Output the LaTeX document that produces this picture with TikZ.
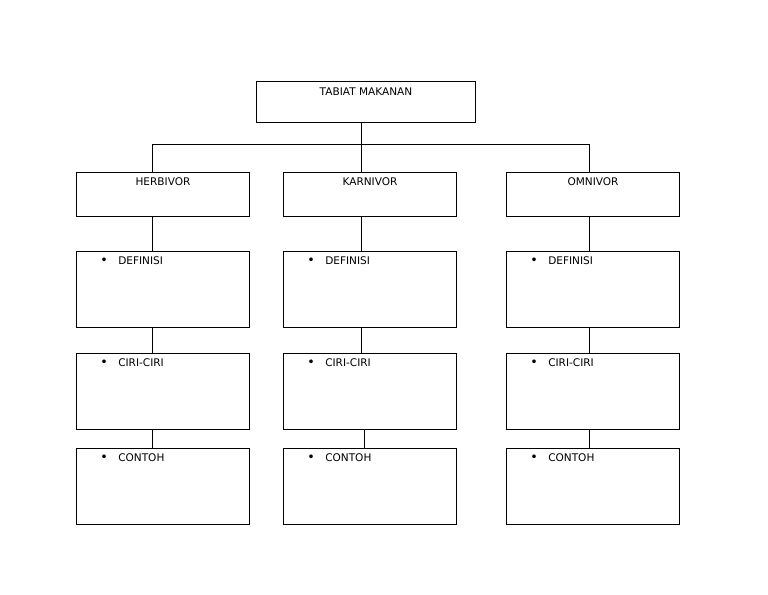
\documentclass[tikz,border=0pt]{standalone}
\usepackage{fontspec}
\setmainfont{DejaVu Sans}
\begin{document}
\begin{tikzpicture}[x=0.75pt,y=-0.75pt,
  every node/.style={font=\fontsize{7.9}{9.5}\selectfont},
  boxbase/.style={draw, line width=0.75pt, anchor=north west, inner sep=0pt},
  topbox/.style={boxbase, minimum width=164.25pt, minimum height=30.75pt},
  headbox/.style={boxbase, minimum width=129.75pt, minimum height=33pt},
  itembox/.style={boxbase, minimum width=129.75pt, minimum height=57pt},
  ttl/.style={anchor=base, inner sep=0pt},
  itm/.style={anchor=base west, inner sep=0pt},
  conn/.style={line width=0.75pt}]
\useasboundingbox (0,0) rectangle (768,594);
% boxes
\node[topbox] (top) at (256,81) {};
\node[headbox] (h) at (76,172) {};
\node[headbox] (k) at (283,172) {};
\node[headbox] (o) at (506,172) {};
\node[itembox] (hd) at (76,251) {};
\node[itembox] (kd) at (283,251) {};
\node[itembox] (od) at (506,251) {};
\node[itembox] (hc) at (76,353) {};
\node[itembox] (kc) at (283,353) {};
\node[itembox] (oc) at (506,353) {};
\node[itembox] (hx) at (76,448) {};
\node[itembox] (kx) at (283,448) {};
\node[itembox] (ox) at (506,448) {};
% titles
\node[ttl] (ttop) at ([yshift=-10.5pt]top.north) {TABIAT MAKANAN};
\node[ttl] (th) at ([yshift=-9.75pt]h.north) {HERBIVOR};
\node[ttl] (tk) at ([yshift=-9.75pt]k.north) {KARNIVOR};
\node[ttl] (to) at ([yshift=-9.75pt]o.north) {OMNIVOR};
% items
\foreach \b/\t in {hd/DEFINISI,kd/DEFINISI,od/DEFINISI,hc/CIRI-CIRI,kc/CIRI-CIRI,oc/CIRI-CIRI,hx/CONTOH,kx/CONTOH,ox/CONTOH}{
  \node[itm] (t\b) at ([xshift=18pt,yshift=-10.1pt]\b.north west) {\makebox[13.5pt][l]{\fontsize{9.5}{9.5}\selectfont\textbullet}\t};
}
% connector positions
\coordinate (xh) at (152,0);
\coordinate (xk) at (361,0);
\coordinate (xk2) at (364,0);
\coordinate (xo) at (589,0);
\coordinate (bus) at (0,144);
\draw[conn] (xk |- top.south) -- (xk |- bus);
\draw[conn] (xh |- h.north) -- (xh |- bus) -- (xo |- bus) -- (xo |- o.north);
\draw[conn] (xk |- bus) -- (xk |- k.north);
\draw[conn] (xh |- h.south) -- (xh |- hd.north);
\draw[conn] (xk |- k.south) -- (xk |- kd.north);
\draw[conn] (xo |- o.south) -- (xo |- od.north);
\draw[conn] (xh |- hd.south) -- (xh |- hc.north);
\draw[conn] (xk |- kd.south) -- (xk |- kc.north);
\draw[conn] (xo |- od.south) -- (xo |- oc.north);
\draw[conn] (xh |- hc.south) -- (xh |- hx.north);
\draw[conn] (xk2 |- kc.south) -- (xk2 |- kx.north);
\draw[conn] (xo |- oc.south) -- (xo |- ox.north);
\end{tikzpicture}
\end{document}
